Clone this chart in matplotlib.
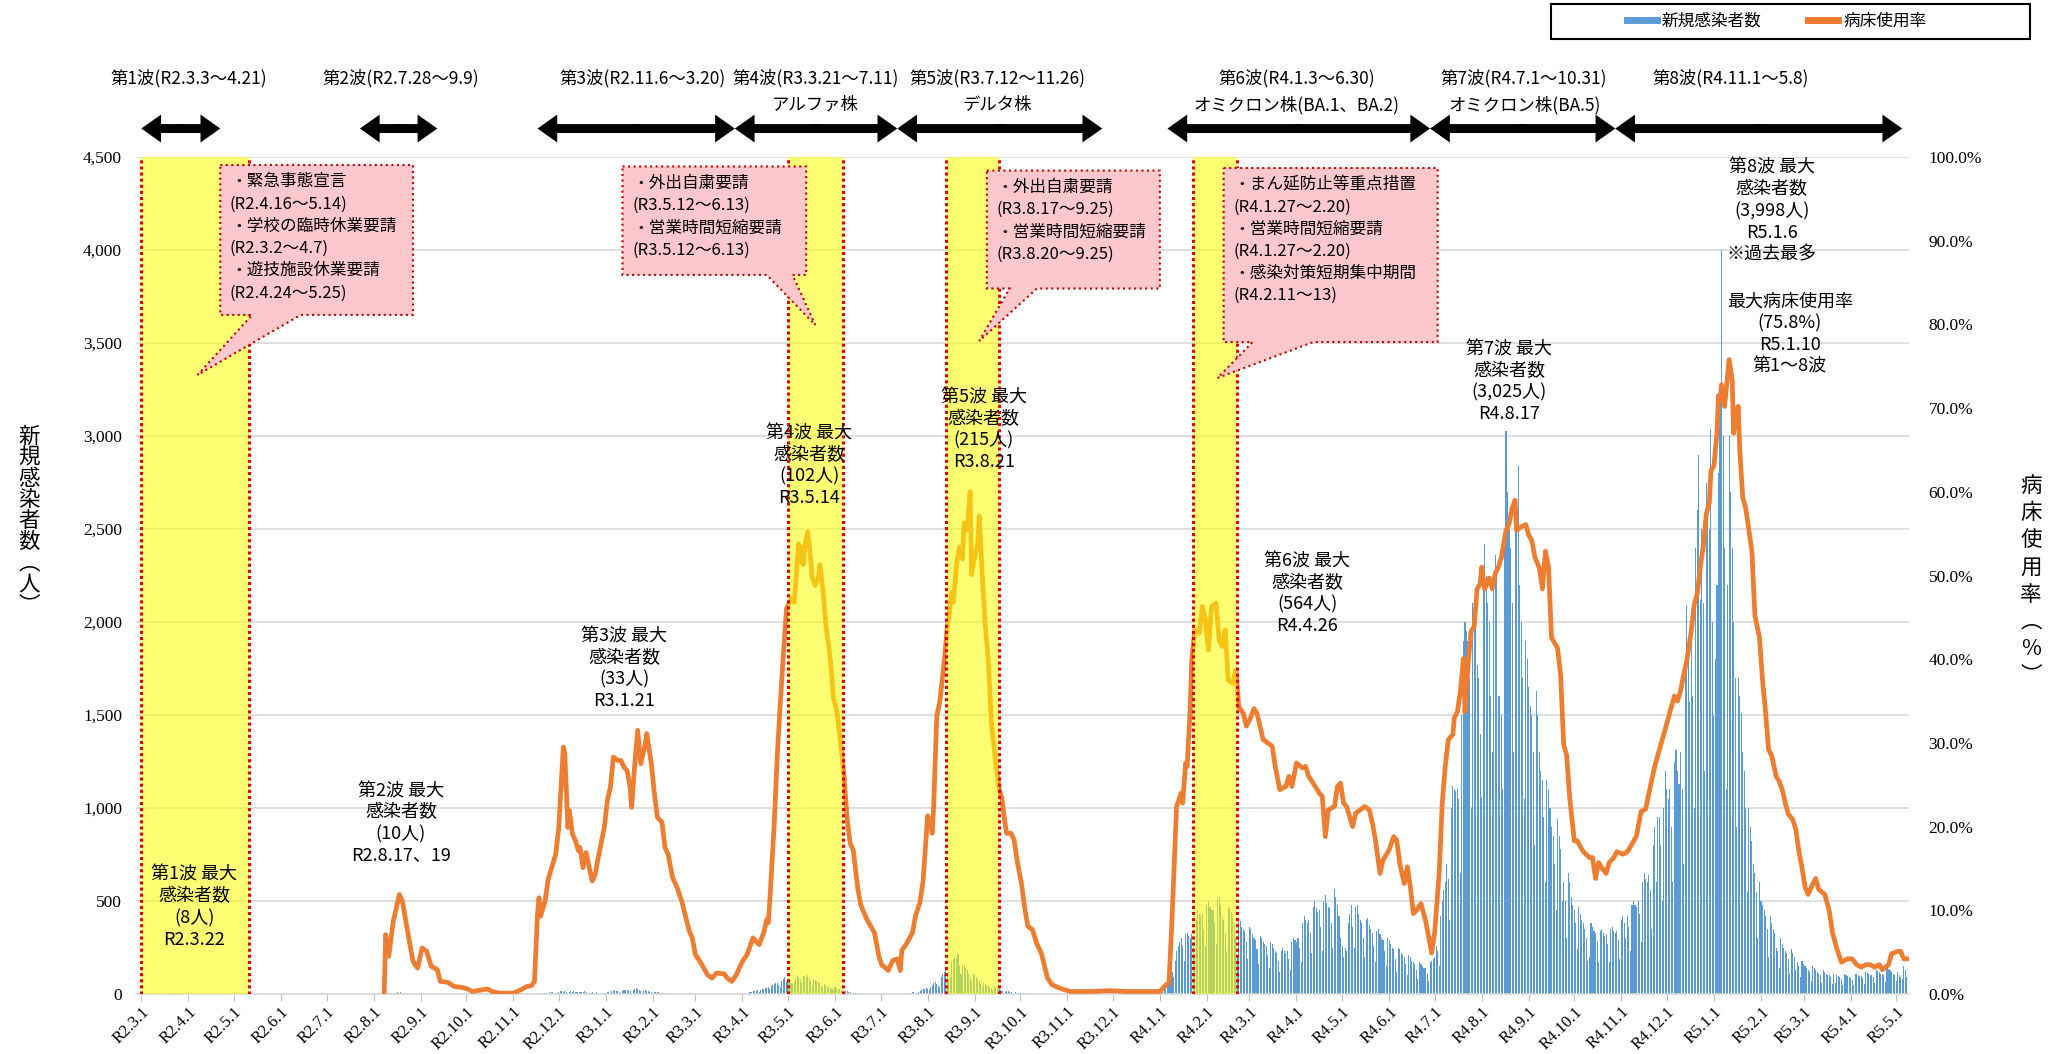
import numpy as np
import matplotlib
matplotlib.use('Agg')
import matplotlib.pyplot as plt
from matplotlib.patches import Polygon, Rectangle, FancyArrow
from matplotlib.lines import Line2D
from matplotlib.ticker import FuncFormatter, MultipleLocator

plt.rcParams['font.family'] = ['Noto Sans CJK JP', 'DejaVu Sans']

START = np.datetime64('2020-03-01')   # R2.3.1 = day 0
END = np.datetime64('2023-05-08')     # R5.5.8

# ---- daily new cases (each block starts on its date) ----
wave1_start = '2020-03-18'
wave1_cases = [2, 1, 3, 0, 8, 4, 2, 1, 3, 2, 0, 1, 2, 1, 0, 1, 3, 2, 1, 0, 1]

wave2_start = '2020-08-08'
wave2_cases = [1, 2, 1, 3, 4, 6, 5, 3, 8, 10, 7, 10, 6, 5, 3, 4, 2, 1, 2, 1, 1]

wave3_start = '2020-11-18'
wave3_cases = [3, 5, 8, 6, 4, 2, 7,
               9, 12, 10, 8, 6, 3, 10,
               14, 16, 12, 15, 10, 5, 12,
               15, 12, 18, 11, 9, 4, 10,
               12, 9, 14, 10, 7, 3, 8,
               10, 8, 6, 9, 5, 2, 7,
               8, 6, 4, 9, 11, 6, 15,
               17, 20, 14, 16, 12, 5, 18,
               22, 19, 24, 18, 14, 8, 20,
               28, 33, 25, 20, 15, 7, 18,
               21, 16, 18, 12, 9, 4, 11,
               12, 9, 10, 7, 5, 2, 6,
               4]

wave4_start = '2021-04-05'
wave4_cases = [5, 10, 12, 15, 14, 18, 20,
               12, 22, 25, 28, 30, 32, 35,
               25, 45, 50, 55, 60, 58, 50,
               40, 70, 80, 90, 65, 75, 70,
               60, 55, 65, 85, 95, 90, 80,
               60, 95, 98, 90, 102, 85, 70,
               50, 80, 75, 70, 65, 60, 45,
               35, 55, 50, 45, 40, 35, 25,
               20, 35, 30, 28, 25, 20, 15,
               10, 18, 15, 12, 10, 8, 5,
               4, 8, 6, 5, 4, 3, 2]

wave5_start = '2021-07-19'
wave5_cases = [3, 6, 8, 10, 9, 7, 8,
               10, 18, 22, 25, 28, 30, 25,
               20, 40, 50, 60, 65, 55, 45,
               40, 90, 110, 120, 130, 95, 80,
               90, 170, 190, 200, 195, 215, 150,
               110, 160, 150, 140, 130, 110, 90,
               70, 110, 100, 90, 80, 70, 55,
               40, 60, 55, 50, 45, 40, 30,
               20, 35, 30, 28, 25, 20, 15,
               8, 12, 15, 14, 12, 10, 8,
               5, 9, 8, 7, 6, 5, 4,
               2, 4, 3, 3, 2, 2, 1]

omicron_start = '2022-01-01'
omicron_cases = [5, 8, 10, 25, 40, 60, 80,
                 100, 120, 90, 180, 230, 260, 280,
                 300, 260, 180, 320, 330, 310, 300,
                 320, 280, 200, 400, 450, 430, 420,
                 430, 350, 260, 480, 500, 470, 450,
                 450, 380, 270, 510, 520, 480, 420,
                 400, 330, 230, 460, 470, 440, 410,
                 380, 300, 210, 400, 390, 360, 350,
                 340, 280, 190, 360, 350, 320, 300,
                 290, 240, 160, 310, 300, 280, 270,
                 260, 210, 140, 280, 270, 250, 230,
                 220, 180, 120, 230, 250, 230, 220,
                 230, 190, 130, 280, 300, 290, 280,
                 300, 250, 170, 380, 420, 400, 380,
                 400, 330, 220, 470, 500, 460, 440,
                 450, 360, 230, 500, 530, 490, 470,
                 460, 380, 250, 564, 520, 480, 420,
                 300, 260, 200, 250, 230, 380, 430,
                 480, 360, 250, 470, 480, 430, 400,
                 380, 300, 200, 400, 410, 370, 350,
                 330, 260, 170, 340, 350, 320, 300,
                 290, 230, 150, 300, 290, 270, 250,
                 240, 190, 120, 250, 240, 220, 210,
                 200, 160, 100, 210, 200, 180, 170,
                 160, 130, 80, 170, 160, 150, 140,
                 140, 110, 70, 170, 180, 190, 200,
                 260, 230, 150, 420, 500, 560, 600,
                 700, 620, 400, 1000, 1120, 1100, 1090,
                 1100, 1050, 650, 1500, 1900, 2000, 1950,
                 1900, 1700, 1000, 2100, 2130, 2000, 1770,
                 1700, 1400, 1060, 2300, 2420, 2250, 2100,
                 2000, 1600, 1300, 2200, 2360, 2300, 1600,
                 1600, 1500, 1100, 2500, 3025, 2700, 2500,
                 2400, 2100, 1300, 2500, 2600, 2840, 2200,
                 2000, 1700, 1050, 1900, 1800, 1650, 1550,
                 1500, 1300, 800, 1630, 1500, 1300, 1200,
                 1150, 950, 600, 1150, 1100, 1000, 900,
                 850, 700, 450, 940, 850, 780, 500,
                 600, 500, 300, 650, 600, 520, 480,
                 450, 380, 240, 470, 430, 400, 380,
                 350, 300, 180, 200, 380, 360, 340,
                 330, 280, 170, 340, 350, 330, 310,
                 320, 270, 170, 350, 360, 340, 330,
                 340, 290, 190, 400, 420, 380, 300,
                 420, 360, 230, 480, 500, 480, 470,
                 500, 430, 280, 600, 650, 620, 600,
                 640, 560, 350, 800, 900, 600, 950,
                 950, 800, 500, 1000, 1200, 1100, 1050,
                 1100, 900, 600, 1250, 1310, 1200, 1130,
                 1300, 1100, 700, 1800, 2090, 1900, 1570,
                 1900, 1600, 1000, 2400, 2600, 2900, 2120,
                 2500, 2100, 1200, 2750, 2600, 2500, 3040,
                 2000, 1500, 1800, 2200, 2800, 3200, 3998,
                 3000, 2400, 1100, 2200, 3000, 2700, 2400,
                 2000, 1700, 900, 1700, 1600, 1510, 1300,
                 1200, 1000, 550, 1000, 900, 820, 700,
                 650, 550, 300, 600, 500, 480, 450,
                 420, 350, 200, 420, 380, 350, 330,
                 250, 230, 140, 300, 270, 250, 230,
                 220, 190, 110, 240, 220, 200, 130,
                 170, 150, 90, 180, 160, 150, 140,
                 130, 120, 70, 150, 140, 130, 120,
                 110, 100, 60, 130, 120, 110, 100,
                 100, 90, 55, 110, 60, 100, 95,
                 90, 80, 50, 110, 100, 95, 90,
                 85, 75, 50, 110, 105, 100, 95,
                 95, 85, 55, 120, 115, 110, 100,
                 100, 90, 60, 130, 125, 120, 110,
                 110, 100, 65, 140, 135, 130, 120,
                 110, 100, 70, 120, 100, 90, 80,
                 150, 130, 90]

# ---- bed occupancy rate (%), (days since R2.3.1, rate) ----
bed_rate_points = [
    (160, 0.0), (161, 7.1), (163, 4.5), (166, 8.7), (170, 11.9), (172, 11.1), (175, 7.9), (179, 3.9),
    (182, 3.1), (185, 5.5), (188, 5.1), (191, 3.3), (195, 2.9), (197, 1.5), (202, 1.4), (206, 0.9),
    (211, 0.8), (215, 0.6), (218, 0.3), (228, 0.6), (231, 0.3), (236, 0.1), (245, 0.1), (250, 0.5),
    (254, 0.9), (257, 1.0), (259, 1.5), (261, 9.5), (262, 11.5), (263, 9.3), (266, 11.1), (268, 13.7),
    (271, 15.5), (273, 16.7), (275, 19.9), (278, 29.5), (279, 28.7), (281, 19.9), (282, 21.9), (284, 19.1),
    (286, 18.3), (288, 17.1), (289, 17.5), (291, 15.1), (293, 16.9), (297, 13.5), (299, 14.3), (301, 16.3),
    (305, 19.9), (307, 23.1), (309, 24.7), (311, 28.3), (314, 27.9), (316, 27.9), (318, 27.1), (320, 26.7),
    (322, 24.7), (323, 22.3), (325, 27.3), (327, 31.5), (329, 27.5), (332, 29.9), (333, 31.1), (336, 27.5),
    (338, 23.9), (340, 21.1), (343, 20.5), (345, 17.5), (347, 16.7), (350, 13.9), (353, 12.7), (356, 11.1),
    (361, 7.5), (363, 6.7), (365, 4.7), (368, 3.9), (373, 2.3), (376, 1.9), (379, 2.5), (384, 2.4),
    (386, 1.9), (389, 1.5), (392, 2.3), (396, 3.9), (399, 4.7), (403, 6.7), (407, 5.9), (410, 7.3),
    (412, 8.9), (413, 8.5), (414, 11.0), (417, 20.5), (419, 28.7), (421, 34.9), (423, 40.6), (425, 46.0),
    (428, 47.2), (430, 46.8), (431, 48.8), (433, 53.8), (434, 51.7), (435, 53.4), (436, 51.3), (437, 53.4),
    (439, 55.2), (440, 53.8), (442, 49.7), (444, 48.8), (446, 49.7), (447, 51.3), (449, 48.4), (451, 43.9),
    (453, 41.4), (454, 39.8), (456, 35.3), (458, 34.0), (461, 29.5), (463, 25.8), (465, 20.9), (467, 18.0),
    (469, 17.2), (472, 12.6), (474, 10.6), (478, 8.9), (483, 7.3), (486, 4.4), (488, 3.4), (490, 3.2),
    (492, 2.8), (495, 4.0), (498, 4.2), (500, 2.8), (501, 5.2), (504, 6.0), (508, 7.3), (510, 9.3),
    (513, 11.0), (515, 13.5), (518, 21.3), (520, 20.4), (521, 19.2), (522, 22.5), (524, 33.2), (526, 34.9),
    (529, 39.8), (531, 43.9), (532, 45.1), (534, 48.0), (535, 46.8), (537, 51.3), (539, 53.4), (541, 52.0),
    (542, 56.3), (544, 55.4), (546, 60.0), (547, 50.1), (548, 51.3), (551, 53.8), (552, 57.1), (554, 50.1),
    (556, 43.9), (558, 39.8), (560, 32.4), (563, 27.4), (565, 24.6), (567, 23.3), (568, 21.7), (570, 19.2),
    (573, 19.2), (575, 18.4), (577, 15.9), (580, 13.0), (582, 10.2), (584, 8.1), (587, 7.7), (590, 6.0),
    (593, 4.8), (597, 1.9), (600, 1.1), (605, 0.7), (612, 0.3), (627, 0.3), (638, 0.4), (649, 0.3),
    (671, 0.3), (675, 1.1), (677, 1.3), (679, 9.0), (682, 22.4), (685, 24.0), (686, 22.8), (688, 27.6),
    (689, 27.2), (691, 34.3), (692, 39.9), (694, 43.5), (697, 43.1), (699, 46.3), (701, 44.7), (703, 41.1),
    (705, 46.3), (708, 46.7), (710, 42.3), (712, 41.5), (714, 43.5), (716, 37.5), (719, 37.1), (721, 38.7),
    (723, 34.3), (726, 33.5), (728, 32.0), (731, 33.1), (733, 34.1), (735, 33.5), (737, 32.0), (739, 30.4),
    (742, 30.0), (745, 29.6), (747, 27.2), (750, 24.4), (754, 24.8), (756, 26.0), (758, 24.8), (761, 27.6),
    (765, 27.0), (767, 27.2), (769, 26.0), (772, 25.2), (776, 24.0), (778, 23.6), (780, 18.8), (782, 22.0),
    (786, 22.4), (788, 24.8), (790, 25.2), (792, 22.8), (794, 22.4), (798, 20.0), (800, 21.6), (803, 22.0),
    (806, 22.4), (809, 22.0), (811, 20.4), (813, 18.4), (816, 14.4), (818, 16.0), (822, 17.2), (825, 18.8),
    (827, 18.4), (829, 15.6), (832, 13.2), (834, 15.2), (836, 12.8), (838, 9.6), (840, 10.0), (843, 10.8),
    (846, 8.8), (848, 6.9), (850, 4.9), (852, 7.3), (855, 14.5), (857, 22.8), (859, 27.2), (861, 30.4),
    (864, 31.0), (865, 33.0), (867, 33.7), (869, 36.2), (871, 40.1), (872, 33.7), (874, 39.4), (876, 43.3),
    (878, 43.9), (880, 48.4), (882, 49.0), (883, 51.0), (885, 48.4), (888, 49.7), (890, 48.4), (892, 50.3),
    (894, 51.0), (896, 52.2), (899, 55.4), (901, 56.1), (903, 58.0), (905, 59.0), (906, 55.4), (909, 55.8),
    (912, 56.1), (914, 54.8), (916, 54.2), (918, 52.2), (921, 50.9), (923, 48.4), (925, 52.9), (927, 51.0),
    (929, 42.6), (933, 41.3), (935, 38.1), (937, 29.8), (939, 28.5), (941, 23.4), (944, 18.3), (946, 18.3),
    (948, 17.6), (950, 17.0), (954, 16.3), (956, 16.3), (958, 13.8), (960, 15.7), (962, 15.1), (965, 14.4),
    (967, 15.7), (970, 16.3), (972, 17.0), (976, 16.7), (979, 17.0), (982, 17.9), (985, 18.9), (988, 21.8),
    (991, 22.1), (994, 24.7), (997, 27.2), (1001, 29.8), (1004, 31.7), (1007, 33.7), (1010, 35.6), (1012, 35.0),
    (1014, 36.2), (1016, 38.1), (1018, 39.7), (1021, 43.3), (1023, 46.5), (1025, 47.8), (1027, 51.0), (1029, 53.5),
    (1031, 57.4), (1033, 58.7), (1034, 62.5), (1036, 63.1), (1038, 67.0), (1039, 71.5), (1040, 70.8), (1041, 72.8),
    (1043, 70.2), (1045, 74.0), (1046, 75.8), (1048, 73.4), (1049, 67.0), (1050, 68.3), (1051, 69.6), (1052, 70.2),
    (1053, 65.0), (1055, 59.3), (1057, 58.0), (1059, 55.4), (1061, 52.9), (1063, 45.2), (1066, 42.6), (1068, 37.5),
    (1070, 33.7), (1072, 29.2), (1074, 28.5), (1077, 26.0), (1079, 25.4), (1081, 24.4), (1083, 22.8), (1085, 21.5),
    (1088, 20.8), (1090, 19.6), (1092, 17.0), (1094, 15.1), (1096, 12.8), (1098, 11.9), (1101, 13.1), (1103, 13.8),
    (1105, 12.5), (1107, 12.2), (1109, 11.9), (1112, 9.9), (1114, 7.4), (1117, 5.4), (1120, 3.8), (1124, 4.2),
    (1127, 4.2), (1130, 3.5), (1133, 3.2), (1136, 3.5), (1139, 3.5), (1142, 3.2), (1145, 3.5), (1147, 2.9),
    (1149, 3.2), (1151, 3.5), (1153, 4.8), (1157, 5.1), (1159, 5.1), (1161, 4.2), (1163, 4.2),
]

# ---- measures periods (yellow bands) ----
band_periods = [('2020-03-01', '2020-05-11'), ('2021-05-01', '2021-06-06'),
                ('2021-08-13', '2021-09-17'), ('2022-01-23', '2022-02-21')]

# ---- wave arrows at the top ----
wave_arrows = [('2020-03-01', '2020-04-22'), ('2020-07-23', '2020-09-12'),
               ('2020-11-17', '2021-03-27'), ('2021-03-27', '2021-07-12'),
               ('2021-07-12', '2021-11-24'), ('2022-01-06', '2022-06-28'),
               ('2022-06-28', '2022-10-28'), ('2022-10-28', '2023-05-05')]
wave_titles = ['第1波(R2.3.3～4.21)', '第2波(R2.7.28～9.9)', '第3波(R2.11.6～3.20)',
               '第4波(R3.3.21～7.11)', '第5波(R3.7.12～11.26)', '第6波(R4.1.3～6.30)',
               '第7波(R4.7.1～10.31)', '第8波(R4.11.1～5.8)']
wave_variants = ['', '', '', 'アルファ株', 'デルタ株', 'オミクロン株(BA.1、BA.2)',
                 'オミクロン株(BA.5)', '']
wave_title_x = [31, 171, 330, 444, 564, 761, 911, 1047]

# ---- wave maximum notes ----
peak_notes = [
    (35, 466, '第1波 最大\n感染者数\n(8人)\nR2.3.22'),
    (171, 917, '第2波 最大\n感染者数\n(10人)\nR2.8.17、19'),
    (318, 1748, '第3波 最大\n感染者数\n(33人)\nR3.1.21'),
    (440, 2841, '第4波 最大\n感染者数\n(102人)\nR3.5.14'),
    (555, 3032, '第5波 最大\n感染者数\n(215人)\nR3.8.21'),
    (768, 2151, '第6波 最大\n感染者数\n(564人)\nR4.4.26'),
    (901, 3292, '第7波 最大\n感染者数\n(3,025人)\nR4.8.17'),
    (1074, 4209, '第8波 最大\n感染者数\n(3,998人)\nR5.1.6\n※過去最多'),
    (1086, 3550, '最大病床使用率\n(75.8%)\nR5.1.10\n第1～8波'),
]

# ---- callouts: box (left, right, bottom, top), tail base (l, r), tip ----
callouts = [
    ((52, 179, 3651, 4457), (73, 105), (37, 3328),
     '・緊急事態宣言\n(R2.4.16～5.14)\n・学校の臨時休業要請\n(R2.3.2～4.7)\n・遊技施設休業要請\n(R2.4.24～5.25)'),
    ((317, 438, 3866, 4449), (412, 429), (444, 3597),
     '・外出自粛要請\n(R3.5.12～6.13)\n・営業時間短縮要請\n(R3.5.12～6.13)'),
    ((557, 671, 3793, 4427), (572, 590), (552, 3511),
     '・外出自粛要請\n(R3.8.17～9.25)\n・営業時間短縮要請\n(R3.8.20～9.25)'),
    ((713, 854, 3505, 4441), (732, 772), (709, 3312),
     '・まん延防止等重点措置\n(R4.1.27～2.20)\n・営業時間短縮要請\n(R4.1.27～2.20)\n・感染対策短期集中期間\n(R4.2.11～13)'),
]

BLUE = '#5B9BD5'
ORANGE = '#ED7D31'
SERIF = 'Liberation Serif'


def day(s):
    return int((np.datetime64(s) - START) / np.timedelta64(1, 'D'))


def main():
    # assemble daily bars
    xs, ys = [], []
    for start, vals in [(wave1_start, wave1_cases), (wave2_start, wave2_cases),
                        (wave3_start, wave3_cases), (wave4_start, wave4_cases),
                        (wave5_start, wave5_cases), (omicron_start, omicron_cases)]:
        d0 = day(start)
        xs.extend(range(d0, d0 + len(vals)))
        ys.extend(vals)
    bed_x = [p[0] for p in bed_rate_points]
    bed_y = [p[1] for p in bed_rate_points]

    fig = plt.figure(figsize=(20.56, 10.54), dpi=100)
    ax = fig.add_axes([136 / 2056, 1 - 994 / 1054, 1773 / 2056, 837 / 1054])
    ax2 = ax.twinx()

    ax.bar(xs, ys, width=0.7, color=BLUE, linewidth=0, zorder=2)
    ax2.plot(bed_x, bed_y, color=ORANGE, lw=3.4, zorder=3, solid_joinstyle='round')

    ax.set_xlim(-3.5, day(str(END)) + 1.5)
    ax.set_ylim(0, 4500)
    ax2.set_ylim(0, 100)

    # grid and spines
    ax.yaxis.set_major_locator(MultipleLocator(500))
    ax.yaxis.grid(True, color='#D9D9D9', lw=1.2, zorder=0)
    ax.set_axisbelow(True)
    for sp in ['top', 'left', 'right']:
        ax.spines[sp].set_visible(False)
    ax.spines['bottom'].set_color('#D9D9D9')
    ax.spines['bottom'].set_linewidth(1.2)
    for sp in ax2.spines.values():
        sp.set_visible(False)

    # ticks
    months = np.arange(np.datetime64('2020-03'), np.datetime64('2023-06'), np.timedelta64(1, 'M'))
    tick_pos = [day(str(m.astype('datetime64[D]'))) for m in months]
    tick_lab = [f"R{int(str(m)[:4]) - 2018}.{int(str(m)[5:7])}.1" for m in months]
    ax.set_xticks(tick_pos)
    ax.set_xticklabels(tick_lab, rotation=45, ha='right', va='top', rotation_mode='anchor',
                       fontfamily=SERIF, fontsize=12)
    ax.tick_params(axis='x', length=5, color='#BFBFBF', pad=2)
    ax.tick_params(axis='y', length=0, pad=10, labelsize=12.5)
    ax.yaxis.set_major_formatter(FuncFormatter(lambda v, p: f'{v:,.0f}'))
    for lab in ax.get_yticklabels():
        lab.set_fontfamily(SERIF)
    ax2.yaxis.set_major_locator(MultipleLocator(10))
    ax2.yaxis.set_major_formatter(FuncFormatter(lambda v, p: f'{v:.1f}%'))
    ax2.tick_params(axis='y', length=0, pad=14, labelsize=12.5)
    for lab in ax2.get_yticklabels():
        lab.set_fontfamily(SERIF)

    # measure periods
    for a, b in band_periods:
        ax2.axvspan(day(a), day(b), color='#FFFF00', alpha=0.55, lw=0, zorder=4)
        for d in (day(a), day(b)):
            ax2.axvline(d, color='#E00000', ls=(0, (1, 1)), lw=2.2, zorder=5)

    # callouts
    for (l, r, b, t), (tl, tr), tip, txt in callouts:
        verts = [(l, t), (r, t), (r, b), (tr, b), tip, (tl, b), (l, b)]
        ax2.add_patch(Polygon(verts, closed=True, transform=ax.transData, fc='#FCC8CC',
                              ec='#C00000', ls=':', lw=1.5, zorder=6, clip_on=False))
        ax2.annotate(txt, xy=(l, t), xycoords=ax.transData, xytext=(7, -6),
                     textcoords='offset points', ha='left', va='top',
                     fontsize=12, linespacing=1.4, zorder=7)

    # peak notes
    for x, y, txt in peak_notes:
        ax2.text(x, y, txt, transform=ax.transData, ha='center', va='center',
                 fontsize=13, linespacing=1.25, zorder=7)

    # wave arrows (two half arrows from the middle) and titles
    for (a, b), title, variant, cx in zip(wave_arrows, wave_titles, wave_variants, wave_title_x):
        d0, d1 = day(a), day(b)
        mid = (d0 + d1) / 2
        for end, sgn in ((d0, 1), (d1, -1)):
            start = mid + 2 * sgn
            ax2.add_patch(FancyArrow(start, 4653, end - start, 0, width=48, head_width=150,
                                     head_length=13, length_includes_head=True,
                                     transform=ax.transData, color='black', lw=0,
                                     clip_on=False, zorder=7))
        ax2.text(cx, 4921, title, transform=ax.transData, ha='center', va='center',
                 fontsize=12.5, clip_on=False)
        if variant:
            ax2.text(cx, 4780, variant, transform=ax.transData, ha='center', va='center',
                     fontsize=12.5, clip_on=False)

    # vertical axis titles
    fig.text(29 / 2056, 1 - 521 / 1054, '\n'.join('新規感染者数︵人︶'), ha='center', va='center',
             fontsize=15.5, linespacing=0.95)
    fig.text(2031 / 2056, 1 - 581 / 1054, '\n'.join('病床使用率︵%︶'), ha='center', va='center',
             fontsize=15.5, linespacing=1.3)

    # legend box
    fig.add_artist(Rectangle((1551 / 2056, 1 - 39 / 1054), 479 / 2056, 35 / 1054,
                             transform=fig.transFigure, fill=False, ec='black', lw=1.5))
    handles = [Line2D([], [], color=BLUE, lw=5), Line2D([], [], color=ORANGE, lw=5)]
    fig.legend(handles, ['新規感染者数', '病床使用率'], loc='center left',
               bbox_to_anchor=(1612 / 2056, 1 - 21.5 / 1054), ncol=2, frameon=False,
               fontsize=12, handlelength=1.8, handletextpad=0.3, columnspacing=2.8)

    fig.savefig('out.png', dpi=100)


if __name__ == '__main__':
    main()
